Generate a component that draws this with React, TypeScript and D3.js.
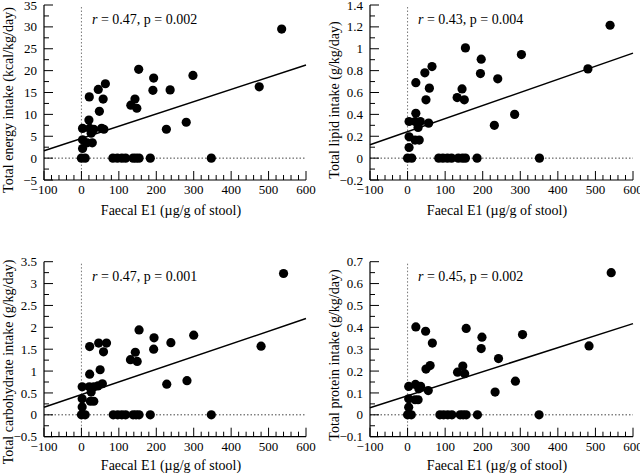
import React from "react";
import * as d3 from "d3";

// ---- Data ----
const xTicks = [-100, 0, 100, 200, 300, 400, 500, 600];

const energyX = [535, 475, 298, 280, 227, 237, 193, 191, 153, 143, 132, 148,
  64, 45, 21, 58, 48, 20, 3, 22, 33, 54, 60, 26, 3, 15, 29, 3,
  0, 10, 84, 96, 108, 118, 138, 146, 154, 184, 347];
const energyY = [29.5, 16.3, 18.9, 8.2, 6.6, 15.6, 18.3, 15.5, 20.3, 13.5, 12.1, 11.4,
  17.0, 15.7, 14.0, 13.5, 10.7, 8.7, 6.8, 6.8, 6.6, 6.8, 6.6, 5.7, 4.2, 3.5, 3.5, 2.2,
  0, 0, 0, 0, 0, 0, 0, 0, 0, 0, 0];
const energyTicks = [-5, 0, 5, 10, 15, 20, 25, 30, 35];
const energyFit = [1.7, 21.3];

const lipidX = [539, 480, 303, 285, 231, 240, 196, 194, 154, 145, 132, 151,
  65, 46, 22, 58, 49, 22, 4, 20, 34, 56, 28, 4, 20, 31, 4,
  0, 11, 83, 94, 106, 117, 135, 146, 154, 185, 351];
const lipidY = [1.215, 0.816, 0.947, 0.40, 0.30, 0.725, 0.905, 0.773, 1.008, 0.633, 0.554, 0.533,
  0.837, 0.78, 0.69, 0.64, 0.533, 0.41, 0.335, 0.335, 0.335, 0.32, 0.28, 0.195, 0.165, 0.165, 0.097,
  0, 0, 0, 0, 0, 0, 0, 0, 0, 0, 0];
const lipidTicks = [-0.2, 0, 0.2, 0.4, 0.6, 0.8, 1, 1.2, 1.4];
const lipidFit = [0.122, 0.96];

const carbX = [540, 480, 300, 282, 228, 239, 193, 194, 154, 144, 131, 149,
  67, 46, 22, 59, 50, 22, 56, 2, 21, 33, 44, 26, 2, 24, 33, 2,
  0, 10, 85, 97, 108, 118, 138, 146, 154, 184, 347];
const carbY = [3.23, 1.57, 1.82, 0.78, 0.70, 1.65, 1.50, 1.76, 1.94, 1.43, 1.26, 1.22,
  1.64, 1.64, 1.56, 1.44, 1.03, 0.93, 0.71, 0.64, 0.64, 0.64, 0.66, 0.52, 0.365, 0.31, 0.31, 0.18,
  0, 0, 0, 0, 0, 0, 0, 0, 0, 0, 0];
const carbTicks = [-0.5, 0, 0.5, 1, 1.5, 2, 2.5, 3, 3.5];
const carbFit = [0.174, 2.2];

const proteinX = [542, 483, 306, 287, 233, 242, 196, 198, 156, 147, 133, 152,
  22, 48, 66, 60, 49, 3, 21, 30, 35, 55, 3, 20, 28, 3,
  0, 10, 86, 96, 107, 118, 140, 148, 156, 186, 350];
const proteinY = [0.65, 0.315, 0.367, 0.154, 0.104, 0.257, 0.303, 0.355, 0.395, 0.223, 0.195, 0.188,
  0.402, 0.382, 0.328, 0.225, 0.209, 0.13, 0.139, 0.119, 0.13, 0.111, 0.073, 0.069, 0.069, 0.035,
  0, 0, 0, 0, 0, 0, 0, 0, 0, 0, 0];
const proteinTicks = [-0.1, 0, 0.1, 0.2, 0.3, 0.4, 0.5, 0.6, 0.7];
const proteinFit = [0.032, 0.417];

const yLabels = [
  "Total energy intake (kcal/kg/day)",
  "Total lipid intake (g/kg/day)",
  "Total carbohydrate intake (g/kg/day)",
  "Total protein intake (g/kg/day)",
];
const rValues = ["0.47", "0.43", "0.47", "0.45"];
const pValues = ["0.002", "0.004", "0.001", "0.002"];
const xLabel = "Faecal E1 (\u00b5g/g of stool)";

// ---- Layout ----
const FONT = "'Liberation Serif', 'Times New Roman', serif";

type Panel = {
  xs: number[]; ys: number[]; ticks: number[]; fit: number[];
  label: string; r: string; p: string;
  left: number; right: number; top: number; bottom: number;
  labelX: number; labelY: number; titleX: number; titleY: number; annX: number;
};

const panels: Panel[] = [
  { xs: energyX, ys: energyY, ticks: energyTicks, fit: energyFit, label: yLabels[0], r: rValues[0], p: pValues[0],
    left: 44, right: 306, top: 5, bottom: 180, labelX: 13, labelY: 100, titleX: 171, titleY: 215, annX: 92 },
  { xs: lipidX, ys: lipidY, ticks: lipidTicks, fit: lipidFit, label: yLabels[1], r: rValues[1], p: pValues[1],
    left: 370, right: 633, top: 5, bottom: 180, labelX: 339, labelY: 100, titleX: 497, titleY: 215, annX: 418 },
  { xs: carbX, ys: carbY, ticks: carbTicks, fit: carbFit, label: yLabels[2], r: rValues[2], p: pValues[2],
    left: 44, right: 306, top: 261.7, bottom: 436.7, labelX: 13, labelY: 362, titleX: 171, titleY: 470, annX: 92 },
  { xs: proteinX, ys: proteinY, ticks: proteinTicks, fit: proteinFit, label: yLabels[3], r: rValues[3], p: pValues[3],
    left: 370, right: 633, top: 261.7, bottom: 436.7, labelX: 339, labelY: 355, titleX: 497, titleY: 470, annX: 418 },
];

const fmt = (v: number) => String(+v.toFixed(2)).replace("-", "\u2212");

function PanelView({ pn }: { pn: Panel }) {
  const xd = [xTicks[0], xTicks[xTicks.length - 1]];
  const yd = [pn.ticks[0], pn.ticks[pn.ticks.length - 1]];
  const x = d3.scaleLinear().domain(xd).range([pn.left, pn.right]);
  const y = d3.scaleLinear().domain(yd).range([pn.bottom, pn.top]);
  const yStep = pn.ticks[1] - pn.ticks[0];
  const yMinor = d3.range(0, pn.ticks.length - 1).map((i) => pn.ticks[i] + yStep / 2);
  const xMinor = d3.range(xd[0], xd[1] + 0.1, 20).filter((v) => Math.abs(v % 100) > 1e-6);
  const fitLine = d3.line<[number, number]>().x((d) => x(d[0])).y((d) => y(d[1]));
  const fitPts: [number, number][] = [[xd[0], pn.fit[0]], [xd[1], pn.fit[1]]];
  return (
    <g>
      {/* reference dotted lines */}
      <line x1={x(0)} x2={x(0)} y1={pn.bottom} y2={pn.top} stroke="#777" strokeWidth={1} strokeDasharray="1.5,2" />
      <line x1={pn.left} x2={pn.right} y1={y(0)} y2={y(0)} stroke="#444" strokeWidth={1} strokeDasharray="1.5,2" />
      {/* axes */}
      <line x1={pn.left} x2={pn.left} y1={pn.bottom} y2={pn.top} stroke="#000" strokeWidth={1.2} />
      <line x1={pn.left} x2={pn.right} y1={pn.bottom} y2={pn.bottom} stroke="#000" strokeWidth={1.2} />
      {pn.ticks.map((t) => (
        <g key={"yt" + t}>
          <line x1={pn.left} x2={pn.left + 9} y1={y(t)} y2={y(t)} stroke="#000" strokeWidth={1} />
          <text x={pn.left - 7} y={y(t)} dy="0.35em" textAnchor="end" fontSize={13} fontFamily={FONT}>{fmt(t)}</text>
        </g>
      ))}
      {yMinor.map((t) => (
        <line key={"ym" + t} x1={pn.left} x2={pn.left + 5} y1={y(t)} y2={y(t)} stroke="#000" strokeWidth={1} />
      ))}
      {xTicks.map((t) => (
        <g key={"xt" + t}>
          <line x1={x(t)} x2={x(t)} y1={pn.bottom} y2={pn.bottom - 9} stroke="#000" strokeWidth={1} />
          <text x={x(t)} y={pn.bottom + 14} textAnchor="middle" fontSize={13} fontFamily={FONT}>{fmt(t)}</text>
        </g>
      ))}
      {xMinor.map((t) => (
        <line key={"xm" + t} x1={x(t)} x2={x(t)} y1={pn.bottom} y2={pn.bottom - 5} stroke="#000" strokeWidth={1} />
      ))}
      {/* regression */}
      <path d={fitLine(fitPts) || ""} stroke="#000" strokeWidth={1.5} fill="none" />
      {/* points */}
      {pn.xs.map((xv, i) => (
        <circle key={"p" + i} cx={x(xv)} cy={y(pn.ys[i])} r={4.6} fill="#000" />
      ))}
      {/* annotation */}
      <text x={pn.annX} y={pn.top + 19} fontSize={14} fontFamily={FONT}>
        <tspan fontStyle="italic">r</tspan>{` = ${pn.r}, p = ${pn.p}`}
      </text>
      {/* titles */}
      <text x={pn.titleX} y={pn.titleY} textAnchor="middle" fontSize={14} fontFamily={FONT}>{xLabel}</text>
      <text transform={`translate(${pn.labelX},${pn.labelY}) rotate(-90)`} textAnchor="middle" fontSize={14} fontFamily={FONT}>{pn.label}</text>
    </g>
  );
}

export default function App() {
  return (
    <svg width={640} height={475} style={{ position: "absolute", left: 0, top: 0, background: "#fff" }}>
      <rect width={640} height={475} fill="#fff" />
      {panels.map((pn, i) => (
        <PanelView key={i} pn={pn} />
      ))}
    </svg>
  );
}
